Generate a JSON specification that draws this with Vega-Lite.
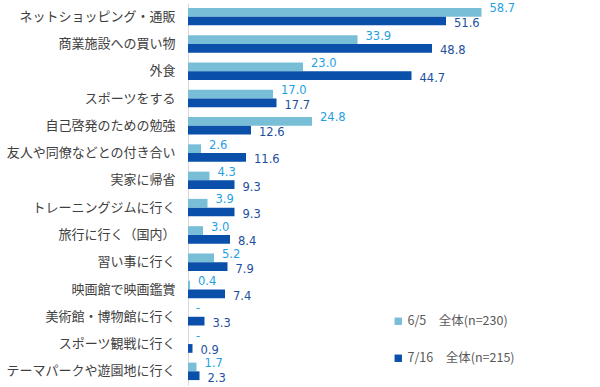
{
  "$schema": "https://vega.github.io/schema/vega-lite/v6.json",
  "autosize": {"type": "none"},
  "width": 400,
  "height": 382,
  "padding": {"left": 188, "top": 3, "right": 12, "bottom": 2},
  "background": "white",
  "config": {"view": {"stroke": null}},
  "data": {"values": [
    {"item": "ネットショッピング・通販", "series": "6/5　全体(n=230)", "value": 58.7, "label": "58.7"},
    {"item": "ネットショッピング・通販", "series": "7/16　全体(n=215)", "value": 51.6, "label": "51.6"},
    {"item": "商業施設への買い物", "series": "6/5　全体(n=230)", "value": 33.9, "label": "33.9"},
    {"item": "商業施設への買い物", "series": "7/16　全体(n=215)", "value": 48.8, "label": "48.8"},
    {"item": "外食", "series": "6/5　全体(n=230)", "value": 23.0, "label": "23.0"},
    {"item": "外食", "series": "7/16　全体(n=215)", "value": 44.7, "label": "44.7"},
    {"item": "スポーツをする", "series": "6/5　全体(n=230)", "value": 17.0, "label": "17.0"},
    {"item": "スポーツをする", "series": "7/16　全体(n=215)", "value": 17.7, "label": "17.7"},
    {"item": "自己啓発のための勉強", "series": "6/5　全体(n=230)", "value": 24.8, "label": "24.8"},
    {"item": "自己啓発のための勉強", "series": "7/16　全体(n=215)", "value": 12.6, "label": "12.6"},
    {"item": "友人や同僚などとの付き合い", "series": "6/5　全体(n=230)", "value": 2.6, "label": "2.6"},
    {"item": "友人や同僚などとの付き合い", "series": "7/16　全体(n=215)", "value": 11.6, "label": "11.6"},
    {"item": "実家に帰省", "series": "6/5　全体(n=230)", "value": 4.3, "label": "4.3"},
    {"item": "実家に帰省", "series": "7/16　全体(n=215)", "value": 9.3, "label": "9.3"},
    {"item": "トレーニングジムに行く", "series": "6/5　全体(n=230)", "value": 3.9, "label": "3.9"},
    {"item": "トレーニングジムに行く", "series": "7/16　全体(n=215)", "value": 9.3, "label": "9.3"},
    {"item": "旅行に行く（国内）", "series": "6/5　全体(n=230)", "value": 3.0, "label": "3.0"},
    {"item": "旅行に行く（国内）", "series": "7/16　全体(n=215)", "value": 8.4, "label": "8.4"},
    {"item": "習い事に行く", "series": "6/5　全体(n=230)", "value": 5.2, "label": "5.2"},
    {"item": "習い事に行く", "series": "7/16　全体(n=215)", "value": 7.9, "label": "7.9"},
    {"item": "映画館で映画鑑賞", "series": "6/5　全体(n=230)", "value": 0.4, "label": "0.4"},
    {"item": "映画館で映画鑑賞", "series": "7/16　全体(n=215)", "value": 7.4, "label": "7.4"},
    {"item": "美術館・博物館に行く", "series": "6/5　全体(n=230)", "value": 0, "label": "-"},
    {"item": "美術館・博物館に行く", "series": "7/16　全体(n=215)", "value": 3.3, "label": "3.3"},
    {"item": "スポーツ観戦に行く", "series": "6/5　全体(n=230)", "value": 0, "label": "-"},
    {"item": "スポーツ観戦に行く", "series": "7/16　全体(n=215)", "value": 0.9, "label": "0.9"},
    {"item": "テーマパークや遊園地に行く", "series": "6/5　全体(n=230)", "value": 1.7, "label": "1.7"},
    {"item": "テーマパークや遊園地に行く", "series": "7/16　全体(n=215)", "value": 2.3, "label": "2.3"}
  ]},
  "encoding": {
    "y": {"field": "item", "type": "nominal", "sort": null,
      "scale": {"paddingInner": 0.36, "paddingOuter": 0.18},
      "axis": {"title": null, "ticks": false, "labelPadding": 13, "labelFontSize": 13,
        "labelFont": "Noto Sans CJK JP", "labelColor": "#404040", "domainColor": "#D9D9D9", "labelLimit": 300}},
    "yOffset": {"field": "series", "type": "nominal", "scale": {"paddingInner": 0}},
    "x": {"field": "value", "type": "quantitative", "scale": {"domain": [0, 80]}, "axis": null}
  },
  "layer": [
    {"mark": {"type": "bar"},
      "encoding": {
        "color": {"field": "series", "type": "nominal",
          "scale": {"domain": ["6/5　全体(n=230)", "7/16　全体(n=215)"], "range": ["#78BED6", "#0A4FAA"]},
          "legend": {"title": null, "orient": "none", "legendX": 204, "legendY": 312,
            "symbolType": "square", "symbolSize": 55, "symbolStrokeWidth": 0,
            "labelFont": "Noto Sans CJK JP", "labelFontSize": 12.5, "labelColor": "#595959",
            "labelOffset": 3, "rowPadding": 24}}
      }},
    {"transform": [{"filter": "datum.series == '6/5　全体(n=230)'"}],
      "mark": {"type": "text", "align": "left", "dx": 8, "dy": -3, "font": "DejaVu Sans", "fontSize": 11.5, "color": "#1FA0E4"},
      "encoding": {"text": {"field": "label"}}},
    {"transform": [{"filter": "datum.series == '7/16　全体(n=215)'"}],
      "mark": {"type": "text", "align": "left", "dx": 8, "dy": 3, "font": "DejaVu Sans", "fontSize": 11.5, "color": "#1D4FA0"},
      "encoding": {"text": {"field": "label"}}}
  ]
}
